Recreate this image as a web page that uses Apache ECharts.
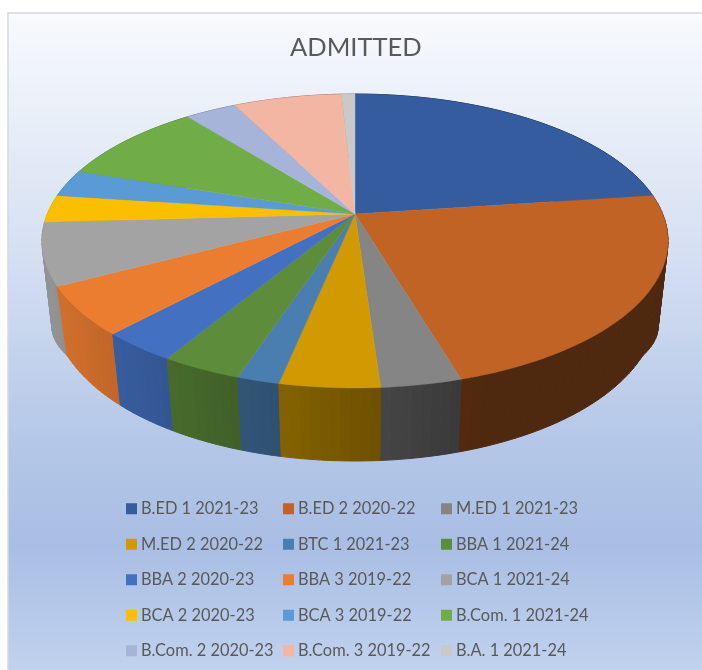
<!DOCTYPE html>
<html><head><meta charset="utf-8">
<style>html,body{margin:0;padding:0;background:#fff}#c{width:702px;height:670px}</style>
<script src="https://cdn.jsdelivr.net/npm/echarts@6/dist/echarts.min.js"></script>
</head><body><div id="c"></div>
<script>
const categories = ['B.ED 1 2021-23','B.ED 2 2020-22','M.ED 1 2021-23','M.ED 2 2020-22','BTC 1 2021-23','BBA 1 2021-24','BBA 2 2020-23','BBA 3 2019-22','BCA 1 2021-24','BCA 2 2020-23','BCA 3 2019-22','B.Com. 1 2021-24','B.Com. 2 2020-23','B.Com. 3 2019-22','B.A. 1 2021-24'];
const admitted = [137,135,21,26,11,21,20,32,41,18,18,55,19,40,5];
const colors = ['#355C9F','#C16325','#858585','#D09A00','#4A7EB0','#5D8C3A','#4370C0','#EB7D31','#A3A3A3','#FBBF00','#5B9BD5','#70AD47','#A5B4D8','#F3B6A2','#C9C9C9'];
const legendColumns = [
  ['B.ED 1 2021-23','M.ED 2 2020-22','BBA 2 2020-23','BCA 2 2020-23','B.Com. 2 2020-23'],
  ['B.ED 2 2020-22','BTC 1 2021-23','BBA 3 2019-22','BCA 3 2019-22','B.Com. 3 2019-22'],
  ['M.ED 1 2021-23','BBA 1 2021-24','BCA 1 2021-24','B.Com. 1 2021-24','B.A. 1 2021-24']
];
const legendLeft = [126,283,441];

// Tilted-disc projection: the disc centre maps to (cx, y0), with perspective k.
const topFace = {cx:355, y0:214, a:307.7, b:142, kx:0.1837, ky:0.1837, bulge:0};
const baseFace = {cx:355, y0:275, a:297.9, b:159.4, kx:0.1837, ky:0.143, bulge:22.5};
function project(f, th){
  const u = Math.sin(th), v = -Math.cos(th);
  const t = Math.min(1, Math.max(0, (0.4739-v)/0.2939));
  return [f.cx + f.a*u/(1-f.kx*v), f.y0 + f.b*v/(1-f.ky*v) + f.bulge*t];
}
const total = admitted.reduce((s,x)=>s+x,0);
function arc(f, a0, a1, step){
  const n = Math.max(2, Math.ceil((a1-a0)/step)), pts = [];
  for(let i=0;i<=n;i++) pts.push(project(f, a0+(a1-a0)*i/n));
  return pts;
}
function shade(hex, m){
  const n = parseInt(hex.slice(1),16);
  const c = [n>>16,(n>>8)&255,n&255].map(x=>Math.round(x*m));
  return 'rgb('+c.join(',')+')';
}
function wallFactor(x){ return Math.max(0.41, 0.95 - 0.00112*x); }

function renderSlice(params, api){
  const i = params.seriesIndex;
  let before = 0;
  for(let j=0;j<i;j++) before += admitted[j];
  const a0 = before/total*Math.PI*2, a1 = (before+api.value(0))/total*Math.PI*2;
  const topArc = arc(topFace,a0,a1,0.015);
  const wTop = arc(topFace,a0,a1,0.03), wBase = arc(baseFace,a0,a1,0.03);
  const depth = Math.round(50 + 40*(-Math.cos((a0+a1)/2)));
  const children = [];
  for(let s=0;s<wTop.length-1;s++){
    const col = shade(colors[i],wallFactor((wTop[s][0]+wTop[s+1][0])/2));
    children.push({type:'polygon',z2:depth,shape:{points:[wTop[s],wTop[s+1],wBase[s+1],wBase[s]]},
      style:{fill:col,stroke:col,lineWidth:1}});
  }
  children.push({type:'polygon',z2:200,shape:{points:[[topFace.cx,topFace.y0]].concat(topArc)},style:{fill:colors[i],stroke:colors[i],lineWidth:0.4}});
  return {type:'group',children};
}

const chart = echarts.init(document.getElementById('c'),null,{renderer:'canvas'});
chart.setOption({
  animation:false,
  backgroundColor:'#ffffff',
  graphic:[{type:'rect',z:-10,silent:true,shape:{x:8,y:13,width:700,height:664},
    style:{stroke:'#D9D9D9',lineWidth:1.5,fill:{type:'linear',x:0,y:13,x2:0,y2:670,global:true,colorStops:[
      {offset:0,color:'#F8FAFD'},{offset:0.35,color:'#D7E1F3'},{offset:0.67,color:'#B3C6E7'},{offset:0.81,color:'#A9BEE4'},{offset:1,color:'#C1D2ED'}]}}}],
  title:{text:'ADMITTED',left:290,top:35,padding:0,textStyle:{fontFamily:'Lato',fontSize:25.5,fontWeight:'normal',color:'#595959'}},
  legend:legendColumns.map((col,k)=>({
    data:col,orient:'vertical',left:legendLeft[k],top:499,itemWidth:11,itemHeight:11,itemGap:16,padding:0,
    icon:'rect',selectedMode:false,textStyle:{fontFamily:'Lato',fontSize:16.4,color:'#595959',padding:[0,0,0,-1],lineHeight:19.5}
  })),
  series:categories.map((name,i)=>({
    type:'custom',name,coordinateSystem:'none',renderItem:renderSlice,
    itemStyle:{color:colors[i]},data:[[admitted[i]]],clip:false,silent:true
  }))
});
</script></body></html>
